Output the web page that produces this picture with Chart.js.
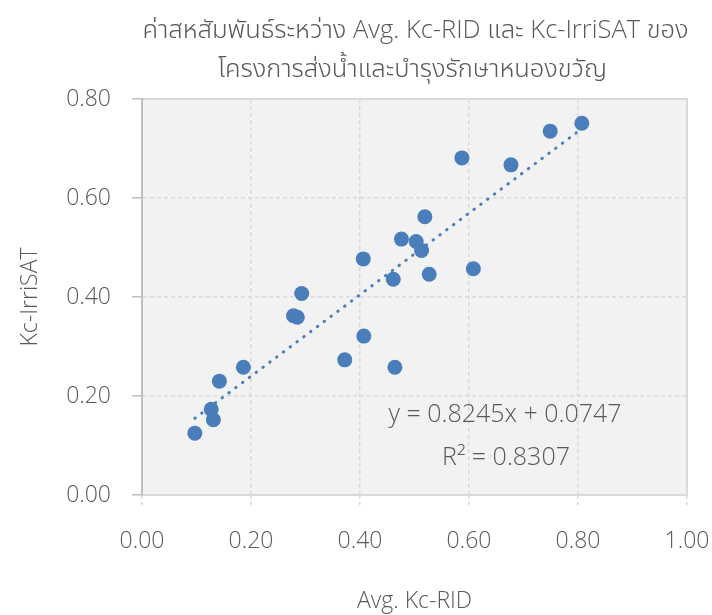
<!DOCTYPE html>
<html lang="th">
<head>
<meta charset="utf-8">
<title>Kc-RID vs Kc-IrriSAT</title>
<script src="https://cdn.jsdelivr.net/npm/chart.js@4.4.1/dist/chart.umd.min.js"></script>
<style>
    html, body { margin: 0; padding: 0; background: #ffffff; }
    #wrap { width: 712px; height: 615px; }
</style>
</head>
<body>
<div id="wrap"><canvas id="kcChart" width="712" height="615"></canvas></div>
<script>
// ข้อความ
const titleLines = ['ค่าสหสัมพันธ์ระหว่าง Avg. Kc-RID และ Kc-IrriSAT ของ', 'โครงการส่งน้ำและบำรุงรักษาหนองขวัญ'];
const xTitle = 'Avg. Kc-RID';
const yTitle = 'Kc-IrriSAT';
const eqLines = ['y = 0.8245x + 0.0747', 'R² = 0.8307'];

// ค่าจุด (อ่านจากภาพ)
const kcRid = [0.097, 0.131, 0.127, 0.142, 0.186, 0.278, 0.285, 0.293,
    0.372, 0.407, 0.406, 0.464, 0.461, 0.476, 0.503, 0.513, 0.519, 0.527,
    0.608, 0.587, 0.677, 0.749, 0.807];
const kcIrrisat = [0.125, 0.152, 0.173, 0.230, 0.258, 0.362, 0.359, 0.407,
    0.273, 0.321, 0.477, 0.258, 0.436, 0.517, 0.512, 0.494, 0.562, 0.446,
    0.457, 0.681, 0.667, 0.735, 0.751];

// เส้นแนวโน้ม (ปลายเส้นอ่านจากภาพ)
const trendX = [0.097, 0.807];
const trendY = [0.155, 0.740];

// ป้ายแกน
const xTickLabels = ['0.00', '0.20', '0.40', '0.60', '0.80', '1.00'];
const yTickLabels = ['0.00', '0.20', '0.40', '0.60', '0.80'];

const textColor = '#595959';
const fontFamily = "'Open Sans', 'Noto Sans Thai', 'Noto Sans', 'DejaVu Sans', sans-serif";

// พื้นหลังพื้นที่กราฟ
const plotBackground = {
    id: 'plotBackground',
    beforeDraw(chart) {
        const { ctx, chartArea: a } = chart;
        ctx.save();
        ctx.fillStyle = '#f2f2f2';
        ctx.fillRect(a.left, a.top, a.width, a.height);
        ctx.strokeStyle = '#d9d9d9';
        ctx.lineWidth = 2;
        ctx.strokeRect(a.left, a.top, a.width, a.height);
        ctx.restore();
    }
};

// ชื่อกราฟและสมการ
const chartTexts = {
    id: 'chartTexts',
    afterDraw(chart) {
        const { ctx, chartArea: a } = chart;
        const cx = (a.left + a.right) / 2;
        ctx.save();
        ctx.fillStyle = textColor;
        ctx.textAlign = 'center';
        ctx.textBaseline = 'middle';
        ctx.font = '300 25.5px ' + fontFamily;
        ctx.fillText(titleLines[0], cx + 1, 31);
        ctx.fillText(titleLines[1], cx - 2, 70);
        ctx.font = '300 25px ' + fontFamily;
        ctx.fillText(eqLines[0], 505, 415);
        ctx.fillText(eqLines[1], 506, 458);
        ctx.restore();
    }
};

const points = kcRid.map((x, i) => ({ x: x, y: kcIrrisat[i] }));
const trend = trendX.map((x, i) => ({ x: x, y: trendY[i] }));

new Chart(document.getElementById('kcChart'), {
    type: 'scatter',
    data: {
        datasets: [{
            label: 'Trend',
            data: trend,
            showLine: true,
            order: 0,
            pointRadius: 0,
            borderColor: '#4a7ebb',
            borderWidth: 3,
            borderDash: [0.5, 8],
            borderCapStyle: 'round'
        }, {
            label: 'Kc',
            data: points,
            order: 1,
            pointRadius: 7.5,
            pointBorderWidth: 0,
            backgroundColor: '#4a7ebb',
            borderColor: '#4a7ebb'
        }]
    },
    plugins: [plotBackground, chartTexts],
    options: {
        responsive: false,
        animation: false,
        layout: { padding: { top: 99, right: 25, bottom: 0, left: 0 } },
        plugins: {
            legend: { display: false },
            tooltip: { enabled: false },
            title: { display: false }
        },
        scales: {
            x: {
                type: 'linear',
                min: 0,
                max: 1,
                afterFit(scale) {
                    scale.height = 120;
                    scale.paddingLeft = 0;
                    scale.paddingRight = 0;
                },
                ticks: {
                    stepSize: 0.2,
                    padding: 23,
                    color: textColor,
                    font: { family: fontFamily, size: 23, weight: 300 },
                    callback: (v, i) => xTickLabels[i]
                },
                grid: {
                    color: '#d9d9d9',
                    lineWidth: 1.5,
                    tickLength: 10,
                    tickColor: '#d9d9d9',
                    tickBorderDash: [4, 3]
                },
                border: { display: false, dash: [4, 3] },
                title: {
                    display: true,
                    text: xTitle,
                    color: textColor,
                    font: { family: fontFamily, size: 23, weight: 300 },
                    padding: { top: 0, bottom: 0 }
                }
            },
            y: {
                type: 'linear',
                min: 0,
                max: 0.8,
                afterFit(scale) {
                    scale.width = 142;
                    scale.paddingTop = 0;
                    scale.paddingBottom = 0;
                },
                ticks: {
                    stepSize: 0.2,
                    padding: 21,
                    color: textColor,
                    font: { family: fontFamily, size: 23, weight: 300 },
                    callback: (v, i) => yTickLabels[i]
                },
                grid: {
                    color: '#d9d9d9',
                    lineWidth: 1.5,
                    tickLength: 10,
                    tickColor: '#bfbfbf'
                },
                border: { display: true, color: '#bfbfbf', width: 2, dash: [4, 3] },
                title: {
                    display: true,
                    text: yTitle,
                    color: textColor,
                    font: { family: fontFamily, size: 23, weight: 300 },
                    padding: { top: 17, bottom: 0 }
                }
            }
        }
    }
});
</script>
</body>
</html>
